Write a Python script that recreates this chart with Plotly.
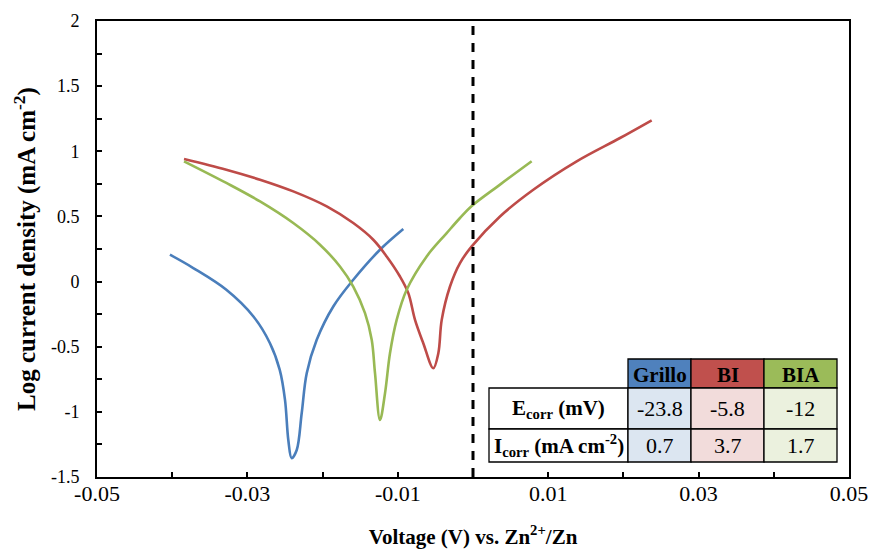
import plotly.graph_objects as go

# ---- data ----
grillo_v = [-0.0403, -0.0372, -0.0328, -0.0292, -0.0270, -0.0257, -0.0250, -0.02456, -0.02411,
            -0.02344, -0.02278, -0.02211, -0.02078, -0.01858, -0.01592, -0.01237, -0.00927]
grillo_j = [0.206, 0.104, -0.063, -0.268, -0.473, -0.678, -0.908, -1.216, -1.356,
            -1.293, -1.011, -0.703, -0.447, -0.191, 0.014, 0.244, 0.403]

bi_v = [-0.03843, -0.0328, -0.02832, -0.0239, -0.01945, -0.01592, -0.01326, -0.01148, -0.00971,
        -0.0086, -0.00771, -0.00661, -0.00528, -0.00461, -0.00416, -0.00306, -0.00173,
        -0.00017, 0.00359, 0.00802, 0.01379, 0.01955, 0.02376]
bi_j = [0.941, 0.859, 0.782, 0.692, 0.577, 0.449, 0.321, 0.193, 0.039,
        -0.089, -0.294, -0.473, -0.665, -0.550, -0.294, -0.038, 0.142,
        0.270, 0.500, 0.705, 0.923, 1.102, 1.238]

bia_v = [-0.03843, -0.0328, -0.02832, -0.0239, -0.02035, -0.01769, -0.01592, -0.01436, -0.01347,
         -0.01303, -0.01237, -0.0117, -0.01104, -0.01015, -0.00882, -0.00616, -0.0035,
         -0.00173, -0.00017, 0.00359, 0.0078]
bia_j = [0.923, 0.757, 0.615, 0.449, 0.283, 0.116, -0.038, -0.242, -0.447,
         -0.703, -1.062, -0.857, -0.550, -0.294, -0.063, 0.193, 0.372,
         0.488, 0.580, 0.744, 0.923]

x_tickvals = [-0.05, -0.03, -0.01, 0.01, 0.03, 0.05]
x_ticktext = ["-0.05", "-0.03", "-0.01", "0.01", "0.03", "0.05"]
y_tickvals = [2, 1.5, 1, 0.5, 0, -0.5, -1, -1.5]
y_ticktext = ["2", "1.5", "1", "0.5", "0", "-0.5", "-1", "-1.5"]

table_cols = ["Grillo", "BI", "BIA"]
ecorr = ["-23.8", "-5.8", "-12"]
icorr = ["0.7", "3.7", "1.7"]
row_labels = ["<b>E<sub>corr</sub> (mV)</b>", "<b>I<sub>corr</sub> (mA cm<sup>-2</sup>)</b>"]

colors = ["#4A7EBB", "#BE4B48", "#98B954"]
header_fill = ["#4F81BD", "#C0504D", "#9BBB59"]
cell_fill = ["#DCE6F1", "#F2DCDB", "#EBF1DE"]

FONT = "Liberation Serif"
W, H = 870, 549
L, R, T, B = 97, 849, 21, 477    # plot area in window pixels

fig = go.Figure()
for v, j, c, n in [(grillo_v, grillo_j, colors[0], "Grillo"),
                   (bi_v, bi_j, colors[1], "BI"),
                   (bia_v, bia_j, colors[2], "BIA")]:
    fig.add_trace(go.Scatter(x=v, y=j, mode="lines", name=n,
                             line=dict(color=c, width=2.6, shape="spline", smoothing=1.0)))

# dashed vertical line at 0 V
fig.add_shape(type="line", xref="x", yref="paper", x0=0, x1=0, y0=0, y1=1,
              line=dict(color="black", width=3, dash="9px,8px"))

def px(xp):
    return (xp - L) / (R - L)

def py(yp):
    return (B - yp) / (B - T)

# table geometry (window pixels)
col_x = [489, 628, 691, 764, 837]
row_y = [359, 388, 429, 462]

def rect(x0, x1, y0, y1, fill, lw=1.3):
    fig.add_shape(type="rect", xref="paper", yref="paper",
                  x0=px(x0), x1=px(x1), y0=py(y1), y1=py(y0),
                  fillcolor=fill, line=dict(color="black", width=lw), layer="above")

def text(x, y, s, size=22):
    fig.add_annotation(xref="paper", yref="paper", x=px(x), y=py(y), text=s,
                       showarrow=False, font=dict(family=FONT, size=size, color="black"),
                       xanchor="center", yanchor="middle")

for i, name in enumerate(table_cols):
    rect(col_x[i + 1], col_x[i + 2], row_y[0], row_y[1], header_fill[i])
    text((col_x[i + 1] + col_x[i + 2]) / 2, (row_y[0] + row_y[1]) / 2 + 1, "<b>" + name + "</b>", size=21)
for r, (lab, vals) in enumerate(zip(row_labels, [ecorr, icorr])):
    rect(col_x[0], col_x[1], row_y[r + 1], row_y[r + 2], "white")
    text((col_x[0] + col_x[1]) / 2, (row_y[r + 1] + row_y[r + 2]) / 2, lab, size=21)
    for i in range(3):
        rect(col_x[i + 1], col_x[i + 2], row_y[r + 1], row_y[r + 2], cell_fill[i])
        text((col_x[i + 1] + col_x[i + 2]) / 2, (row_y[r + 1] + row_y[r + 2]) / 2, vals[i])

axis_common = dict(showline=True, linecolor="black", linewidth=2, mirror=True,
                   ticks="inside", ticklen=5, tickwidth=1.5, tickcolor="black",
                   showgrid=False, zeroline=False, automargin=False,
                   ticklabeloverflow="allow")

fig.update_xaxes(range=[-0.05, 0.05], tickvals=x_tickvals, ticktext=x_ticktext,
                 tickfont=dict(family=FONT, size=22, color="black"),
                 minor=dict(ticks="inside", ticklen=5, tickwidth=1.5, tickcolor="black",
                            dtick=0.01, tick0=-0.05),
                 title=dict(text="<b>Voltage (V) vs. Zn<sup>2+</sup>/Zn</b>",
                            font=dict(family=FONT, size=21, color="black"), standoff=42),
                 ticklabelstandoff=-4, **axis_common)
fig.update_yaxes(range=[-1.5, 2], tickvals=y_tickvals, ticktext=y_ticktext,
                 tickfont=dict(family=FONT, size=18, color="black"),
                 minor=dict(ticks="inside", ticklen=5, tickwidth=1.5, tickcolor="black",
                            dtick=0.25, tick0=-1.5),
                 title=dict(text="<b>Log current density (mA cm<sup>-2</sup>)</b>",
                            font=dict(family=FONT, size=25, color="black"), standoff=8),
                 ticklabelstandoff=12, **axis_common)

fig.update_layout(width=W, height=H, showlegend=False,
                  paper_bgcolor="white", plot_bgcolor="white",
                  margin=dict(l=L, r=W - R, t=T, b=H - B, pad=0))

fig.write_html("out.html", config={"displayModeBar": False},
               post_script="document.body.style.margin='0px';document.body.style.overflow='hidden';")
